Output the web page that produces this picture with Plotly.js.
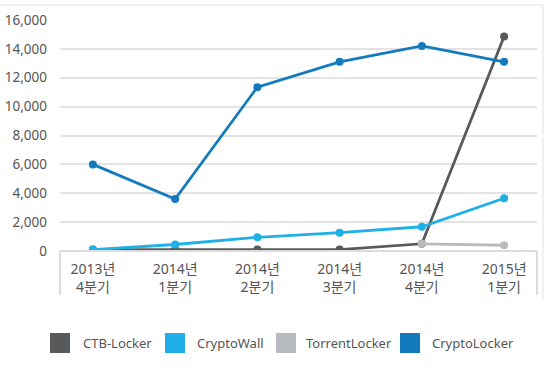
<!DOCTYPE html>
<html>
<head>
<meta charset="utf-8">
<script src="https://cdn.plot.ly/plotly-3.0.1.min.js"></script>
<style>html,body{margin:0;padding:0;background:#fff}#chart{width:550px;height:369px}</style>
</head>
<body>
<div id="chart"></div>
<script>
var categories = ["2013년<br>4분기","2014년<br>1분기","2014년<br>2분기","2014년<br>3분기","2014년<br>4분기","2015년<br>1분기"];
var seriesNames = ["CTB-Locker","CryptoWall","TorrentLocker","CryptoLocker"];
var ctbLocker = [100, 100, 100, 100, 500, 14850];
var cryptoWall = [100, 450, 950, 1270, 1680, 3650];
var torrentLocker = [null, null, null, null, 500, 400];
var cryptoLocker = [6000, 3600, 11350, 13100, 14200, 13100];
var colors = ["#58595b", "#1fb0e8", "#b7bbc0", "#137bbd"];
var yTicks = [0, 2000, 4000, 6000, 8000, 10000, 12000, 14000, 16000];

var xIdx = categories.map(function(_, i){ return i; });
var allSeries = [ctbLocker, cryptoWall, torrentLocker, cryptoLocker];
var traces = allSeries.map(function(vals, k){
  return {
    type: 'scatter', mode: 'lines+markers', x: xIdx, y: vals, name: seriesNames[k],
    line: {color: colors[k], width: 2.8}, marker: {color: colors[k], size: 8},
    showlegend: false, connectgaps: false, hoverinfo: 'skip'
  };
});

var FONT = 'Noto Sans, Noto Sans CJK KR, sans-serif';
var shapes = [
  {type:'line', xref:'paper', yref:'paper', x0:-60/477, x1:483/477, y0:246/231, y1:246/231, line:{color:'#ececec', width:1.5}},
  {type:'line', xref:'paper', yref:'paper', x0:483/477, x1:483/477, y0:246/231, y1:-49/231, line:{color:'#ececec', width:1.5}},
  {type:'line', xref:'paper', yref:'paper', x0:0, x1:1, y0:0, y1:0, line:{color:'#dcdcdc', width:2}},
  {type:'line', xref:'paper', yref:'paper', x0:0, x1:0, y0:0, y1:-44/231, line:{color:'#dcdcdc', width:2}},
  {type:'line', xref:'paper', yref:'paper', x0:1, x1:1, y0:0, y1:-44/231, line:{color:'#dcdcdc', width:2}}
];
var annotations = [];
var legX = [50, 165, 276, 400];
var textX = [82, 196, 305, 431];
legX.forEach(function(px, k){
  var x0 = (px - 60) / 477, x1 = (px + 20 - 60) / 477;
  var yTop = (251 - 333) / 231, yBot = (251 - 353) / 231;
  shapes.push({type:'rect', xref:'paper', yref:'paper', x0:x0, x1:x1, y0:yBot, y1:yTop, fillcolor:colors[k], line:{width:0}});
  annotations.push({xref:'paper', yref:'paper', x:(textX[k] - 60)/477, y:(251 - 343)/231, xanchor:'left', yanchor:'middle', align:'left',
    text: seriesNames[k], showarrow:false, borderpad:0, font:{family:FONT, size:13, color:'#555'}});
});

var layout = {
  width: 550, height: 369,
  margin: {l: 60, r: 13, t: 20, b: 118},
  paper_bgcolor: '#fff', plot_bgcolor: '#fff',
  font: {family: FONT, size: 13, color: '#555'},
  showlegend: false,
  xaxis: {
    range: [-0.4, 5.4], tickvals: xIdx, ticktext: categories, showgrid: false, zeroline: false,
    showline: false, ticks: '', ticklabelstandoff: 8, tickfont: {family: FONT, size: 14, color: '#555'}, fixedrange: true
  },
  yaxis: {
    range: [0, 16000], tickvals: yTicks, tickformat: ',d', showgrid: true, gridcolor: '#e3e3e3', gridwidth: 2,
    zeroline: false, showline: false, ticks: '', ticklabelstandoff: 12, tickfont: {family: FONT, size: 13.5, color: '#555'}, fixedrange: true
  },
  shapes: shapes,
  annotations: annotations
};
Plotly.newPlot('chart', traces, layout, {displayModeBar: false, staticPlot: true});
</script>
</body>
</html>
